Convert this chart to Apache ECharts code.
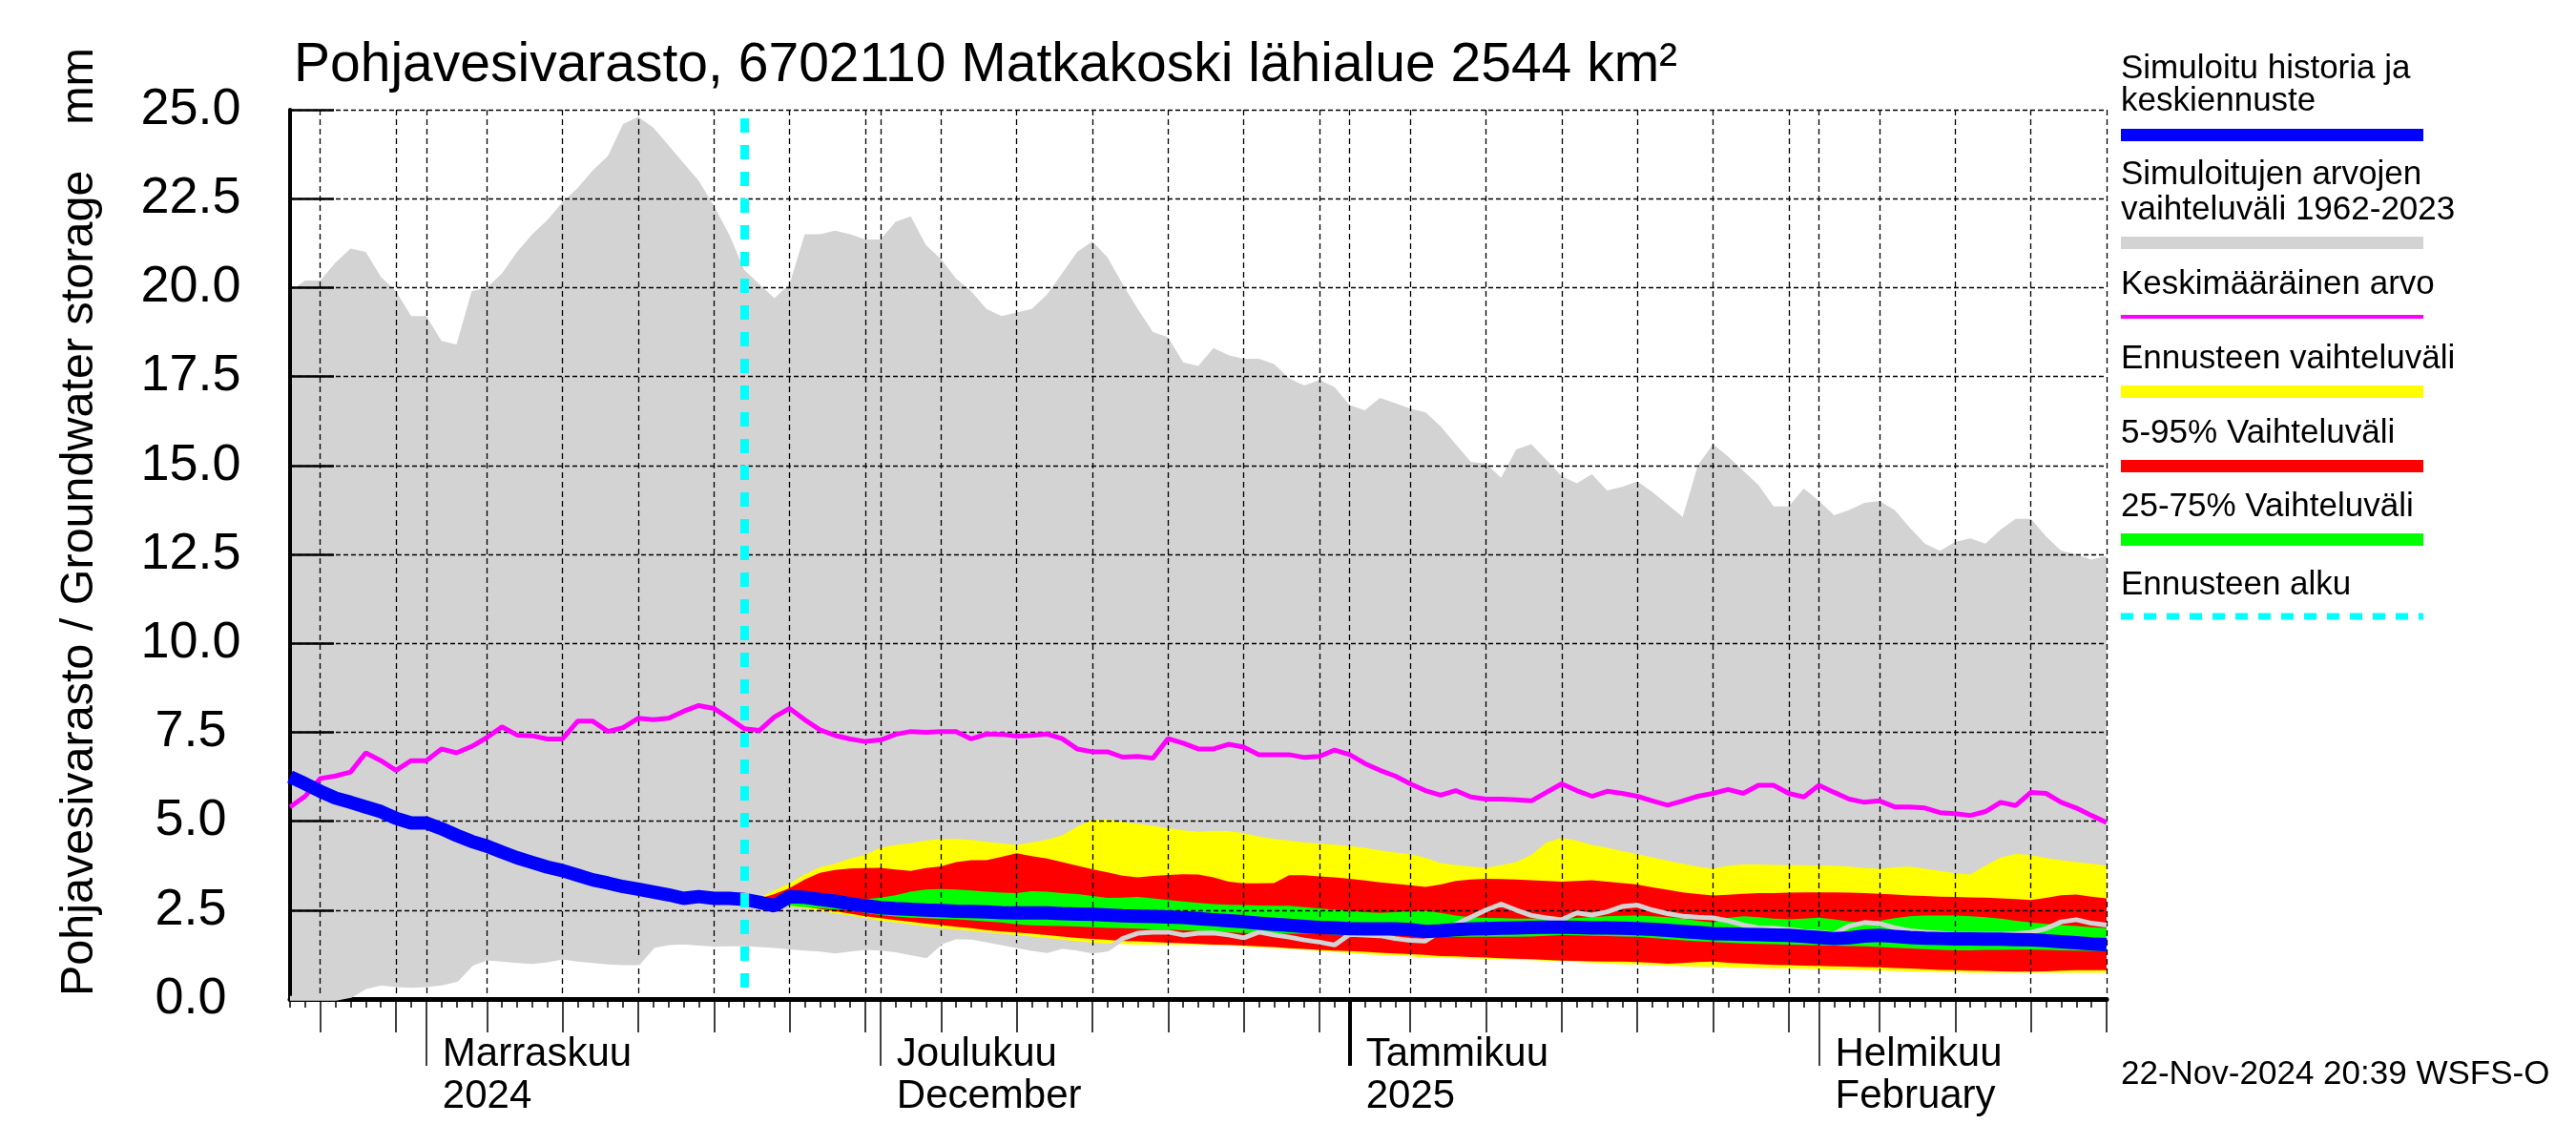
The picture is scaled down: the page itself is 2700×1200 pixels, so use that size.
<!DOCTYPE html>
<html><head><meta charset="utf-8">
<script src="https://cdn.jsdelivr.net/npm/echarts@6/dist/echarts.min.js"></script>
<style>html,body{margin:0;padding:0;background:#fff}#c{width:2700px;height:1200px}</style>
</head><body><div id="c"></div>
<script>
// ---------- data (day index 0 = 2024-10-23, daily values) ----------
const startDate = '2024-10-23';
const dayCount = 121;
const forecastStartDay = 30; // 2024-11-22
const gridDays = [2,7,9,13,18,23,28,33,38,39,43,48,53,58,63,68,70,74,79,84,89,94,99,101,105,110,115,120];
const monthDays = [9,39,70,101];
const monthLabels = ['Marraskuu\n2024','Joulukuu\nDecember','Tammikuu\n2025','Helmikuu\nFebruary'];
const yearDays = [70];

// simulated range 1962-2023 (max / min)
const simMax = [19.9,20.2,20.2,20.7,21.1,21.0,20.3,19.9,19.2,19.2,
18.5,18.4,19.9,20.0,20.4,21.0,21.5,21.9,22.4,22.8,
23.3,23.7,24.6,24.8,24.5,24.0,23.5,23.0,22.3,21.5,
20.5,20.1,19.7,20.1,21.5,21.5,21.6,21.5,21.35,21.35,
21.85,22.0,21.2,20.8,20.25,19.9,19.4,19.2,19.3,19.4,
19.8,20.4,21.0,21.3,20.85,20.1,19.4,18.75,18.6,17.9,
17.8,18.3,18.1,18.0,18.0,17.85,17.45,17.25,17.4,17.2,
16.7,16.55,16.9,16.75,16.6,16.5,16.1,15.6,15.1,15.05,
14.65,15.45,15.6,15.15,14.7,14.5,14.75,14.3,14.4,14.55,
14.25,13.9,13.55,15.0,15.6,15.25,14.85,14.45,13.85,13.85,
14.35,14.0,13.6,13.75,13.95,14.0,13.75,13.25,12.8,12.6,
12.85,12.95,12.8,13.2,13.5,13.5,13.0,12.6,12.5,12.35,12.45];
const simMin = [0.02,0.02,0.02,0.02,0.1,0.35,0.45,0.4,0.38,0.4,
0.45,0.55,1.0,1.15,1.12,1.08,1.05,1.1,1.18,1.12,
1.08,1.04,1.02,1.02,1.5,1.58,1.6,1.57,1.54,1.55,
1.55,1.53,1.5,1.46,1.43,1.4,1.35,1.4,1.45,1.43,
1.38,1.3,1.22,1.6,1.75,1.74,1.66,1.58,1.5,1.42,
1.36,1.48,1.43,1.35,1.4,1.7,1.85,1.88,1.88,1.8,
1.85,1.86,1.8,1.72,1.88,1.8,1.74,1.66,1.6,1.52,
1.82,1.8,1.78,1.7,1.65,1.63,1.9,2.1,2.3,2.5,
2.67,2.5,2.35,2.28,2.23,2.42,2.36,2.45,2.6,2.64,
2.5,2.4,2.33,2.3,2.28,2.2,2.08,2.0,1.99,1.95,
1.9,1.87,1.83,2.05,2.15,2.12,2.0,1.92,1.88,1.85,
1.82,1.82,1.82,1.82,1.84,1.87,1.98,2.17,2.23,2.13,2.08];
// mean value
const meanVal = [5.4,5.7,6.2,6.27,6.38,6.92,6.7,6.43,6.7,6.7,
7.03,6.92,7.1,7.35,7.65,7.42,7.4,7.31,7.31,7.81,
7.81,7.52,7.63,7.89,7.85,7.89,8.09,8.25,8.17,7.89,
7.6,7.55,7.93,8.17,7.85,7.57,7.41,7.31,7.24,7.28,
7.44,7.52,7.5,7.52,7.52,7.31,7.45,7.44,7.39,7.41,
7.45,7.32,7.03,6.95,6.95,6.8,6.82,6.77,7.32,7.19,
7.03,7.03,7.16,7.08,6.87,6.87,6.87,6.79,6.82,7.0,
6.87,6.62,6.43,6.27,6.05,5.86,5.73,5.86,5.68,5.62,
5.62,5.6,5.57,5.81,6.05,5.86,5.7,5.84,5.78,5.7,
5.57,5.45,5.57,5.7,5.78,5.89,5.78,6.01,6.01,5.78,
5.68,6.01,5.81,5.62,5.53,5.57,5.4,5.4,5.37,5.24,
5.21,5.16,5.27,5.53,5.44,5.81,5.78,5.53,5.37,5.16,4.96];
// simulated history + median forecast
const histMedian = [6.25,6.05,5.84,5.65,5.53,5.4,5.27,5.08,4.95,4.95,
4.79,4.6,4.43,4.3,4.13,3.97,3.84,3.71,3.61,3.48,
3.35,3.26,3.16,3.09,3.01,2.93,2.83,2.88,2.83,2.83,
2.8,2.72,2.62,2.88,2.86,2.8,2.75,2.68,2.62,2.57,
2.54,2.52,2.5,2.49,2.47,2.46,2.45,2.43,2.42,2.42,
2.42,2.4,2.39,2.38,2.36,2.34,2.33,2.32,2.31,2.29,
2.26,2.23,2.2,2.17,2.13,2.1,2.07,2.04,2.01,2.0,
1.98,1.97,1.97,1.97,1.95,1.9,1.92,1.95,1.97,1.98,
1.99,2.0,2.01,2.02,2.02,2.01,2.0,2.0,1.99,1.98,
1.96,1.93,1.9,1.87,1.84,1.83,1.82,1.81,1.8,1.79,
1.76,1.73,1.7,1.72,1.77,1.79,1.76,1.73,1.71,1.7,
1.69,1.69,1.68,1.68,1.67,1.66,1.64,1.61,1.58,1.55,1.53];
// forecast ranges, days 30..120
const fcMax = [2.8,2.85,3.05,3.25,3.5,3.7,3.8,3.95,4.05,4.25,
4.33,4.38,4.45,4.5,4.5,4.47,4.42,4.37,4.33,4.4,
4.48,4.6,4.85,5.03,5.05,4.98,4.92,4.87,4.8,4.74,
4.7,4.73,4.72,4.66,4.57,4.5,4.45,4.4,4.37,4.34,
4.3,4.25,4.18,4.12,4.08,3.97,3.82,3.77,3.72,3.69,
3.76,3.85,4.05,4.4,4.53,4.45,4.33,4.25,4.16,4.08,
3.98,3.89,3.8,3.72,3.67,3.75,3.78,3.78,3.77,3.76,
3.76,3.75,3.75,3.72,3.68,3.66,3.7,3.72,3.66,3.6,
3.54,3.5,3.75,3.98,4.08,4.05,3.96,3.9,3.85,3.8,3.75];
const fcP95 = [2.8,2.82,2.95,3.12,3.36,3.55,3.63,3.67,3.68,3.69,
3.64,3.6,3.68,3.73,3.85,3.9,3.9,4.0,4.1,4.02,
3.95,3.85,3.75,3.65,3.56,3.47,3.42,3.46,3.49,3.51,
3.5,3.42,3.3,3.25,3.25,3.26,3.48,3.48,3.45,3.42,
3.38,3.33,3.28,3.24,3.2,3.15,3.22,3.32,3.36,3.38,
3.37,3.36,3.34,3.32,3.3,3.32,3.34,3.3,3.26,3.22,
3.14,3.07,3.0,2.95,2.91,2.93,2.96,2.98,2.98,2.99,
3.0,3.0,3.0,2.99,2.98,2.96,2.94,2.91,2.9,2.88,
2.87,2.86,2.85,2.83,2.81,2.78,2.84,2.92,2.94,2.88,2.83];
const fcP75 = [2.8,2.75,2.7,2.72,2.75,2.77,2.78,2.78,2.8,2.85,
2.92,3.02,3.08,3.09,3.08,3.05,3.02,2.99,2.98,3.03,
3.02,2.98,2.95,2.9,2.84,2.85,2.87,2.83,2.78,2.74,
2.7,2.67,2.65,2.64,2.63,2.62,2.62,2.58,2.55,2.51,
2.48,2.44,2.42,2.44,2.47,2.48,2.42,2.35,2.3,2.28,
2.27,2.26,2.26,2.26,2.26,2.28,2.3,2.33,2.34,2.35,
2.33,2.3,2.26,2.2,2.15,2.28,2.33,2.3,2.26,2.24,
2.26,2.29,2.24,2.18,2.15,2.2,2.27,2.33,2.35,2.35,
2.35,2.33,2.3,2.26,2.2,2.15,2.11,2.08,2.05,2.02,1.99];
const fcP25 = [2.8,2.72,2.65,2.62,2.58,2.55,2.52,2.5,2.42,2.36,
2.32,2.29,2.27,2.25,2.24,2.21,2.18,2.15,2.1,2.07,
2.06,2.05,2.04,2.02,2.0,1.99,1.98,1.96,1.95,1.93,
1.92,1.9,1.88,1.86,1.85,1.84,1.84,1.84,1.83,1.81,
1.8,1.8,1.8,1.8,1.79,1.76,1.75,1.75,1.75,1.75,
1.75,1.75,1.76,1.78,1.8,1.79,1.78,1.77,1.76,1.75,
1.72,1.68,1.65,1.62,1.6,1.58,1.56,1.55,1.54,1.53,
1.52,1.51,1.5,1.49,1.48,1.46,1.44,1.42,1.4,1.38,
1.37,1.37,1.38,1.38,1.39,1.39,1.38,1.37,1.36,1.35,1.35];
const fcP05 = [2.8,2.72,2.68,2.65,2.6,2.53,2.47,2.4,2.33,2.27,
2.22,2.17,2.12,2.08,2.03,1.99,1.94,1.9,1.87,1.84,
1.8,1.76,1.72,1.69,1.66,1.63,1.62,1.6,1.58,1.57,
1.55,1.53,1.52,1.5,1.48,1.46,1.43,1.41,1.38,1.36,
1.35,1.33,1.3,1.28,1.26,1.24,1.21,1.2,1.18,1.17,
1.15,1.13,1.12,1.1,1.08,1.07,1.06,1.05,1.05,1.04,
1.02,0.99,1.01,1.04,1.05,1.02,1.0,0.98,0.96,0.95,
0.94,0.93,0.92,0.91,0.9,0.89,0.87,0.86,0.84,0.82,
0.81,0.8,0.79,0.78,0.77,0.77,0.78,0.8,0.81,0.81,0.81];
const fcMin = [2.8,2.72,2.66,2.61,2.55,2.48,2.41,2.35,2.28,2.2,
2.15,2.1,2.04,1.99,1.95,1.92,1.88,1.84,1.8,1.76,
1.72,1.67,1.62,1.58,1.56,1.54,1.53,1.53,1.53,1.53,
1.52,1.51,1.5,1.48,1.45,1.43,1.41,1.38,1.35,1.32,
1.29,1.26,1.24,1.22,1.2,1.17,1.16,1.15,1.14,1.13,
1.12,1.1,1.09,1.07,1.06,1.04,1.02,1.0,0.98,0.97,
0.95,0.93,0.92,0.91,0.9,0.89,0.88,0.87,0.86,0.86,
0.85,0.84,0.83,0.82,0.81,0.8,0.79,0.78,0.77,0.76,
0.75,0.74,0.74,0.74,0.74,0.74,0.74,0.74,0.74,0.74,0.74];

// ---------- build ----------
const FONT = '"Liberation Sans", Arial, Helvetica, sans-serif';
const dates = [];
{
  const t0 = Date.UTC(2024, 9, 23);
  for (let i = 0; i < dayCount; i++) dates.push(new Date(t0 + i * 86400000).toISOString().slice(0, 10));
}
const histDates = dates.slice(0, simMax.length);
const fcDates = dates.slice(forecastStartDay, forecastStartDay + fcMax.length);
const pairs = (xs, ys) => xs.map((x, i) => [x, ys[i]]);
const diffs = (xs, hi, lo) => xs.map((x, i) => [x, +(hi[i] - lo[i]).toFixed(3)]);

function bandSeries(name, xs, lo, hi, color, z) {
  return [
    { name: name + '_base', type: 'line', stack: name, data: pairs(xs, lo), symbol: 'none',
      lineStyle: { opacity: 0 }, silent: true, z: z },
    { name: name, type: 'line', stack: name, data: diffs(xs, hi, lo), symbol: 'none',
      lineStyle: { opacity: 0 }, areaStyle: { color: color, opacity: 1 }, silent: true, z: z }
  ];
}

const gridSet = new Set(gridDays), monthSet = new Set(monthDays), yearSet = new Set(yearDays);
const chart = echarts.init(document.getElementById('c'), null, { renderer: 'canvas' });

const baseX = { type: 'category', data: dates, boundaryGap: false, gridIndex: 0, position: 'bottom', z: 3,
  axisLabel: { show: false }, splitLine: { show: false }, axisLine: { show: false } };

const option = {
  animation: false,
  backgroundColor: '#ffffff',
  grid: { left: 304, right: 492, top: 115, bottom: 153, containLabel: false },
  xAxis: [
    Object.assign({}, baseX, {
      axisLine: { show: true, onZero: false, lineStyle: { color: '#000', width: 5 } },
      axisTick: { show: true, interval: 0, length: 9, lineStyle: { color: '#000', width: 1.5 } } }),
    Object.assign({}, baseX, {
      axisTick: { show: true, length: 35, interval: i => gridSet.has(i), lineStyle: { color: '#000', width: 1.5 } },
      splitLine: { show: true, interval: i => gridSet.has(i), lineStyle: { color: '#000', width: 1.3, type: [6, 4] } } }),
    Object.assign({}, baseX, {
      axisTick: { show: true, length: 70, interval: i => monthSet.has(i), lineStyle: { color: '#000', width: 1.5 } },
      axisLabel: { show: true, interval: i => monthSet.has(i),
        formatter: (v, i) => monthLabels[monthDays.indexOf(i)] || '', margin: 36,
        align: 'left', verticalAlign: 'top', padding: [0, 0, 0, 17], lineHeight: 44,
        fontSize: 42, fontFamily: FONT, color: '#000' } }),
    Object.assign({}, baseX, {
      axisTick: { show: true, length: 70, interval: i => yearSet.has(i), lineStyle: { color: '#000', width: 4 } } })
  ],
  yAxis: {
    type: 'value', min: 0, max: 25, interval: 2.5, z: 3,
    axisLine: { show: true, lineStyle: { color: '#000', width: 4 } },
    axisTick: { show: true, inside: true, length: 46, lineStyle: { color: '#000', width: 2.5 } },
    axisLabel: { formatter: v => v.toFixed(1), fontSize: 54, fontFamily: FONT, color: '#000',
      align: 'center', margin: 104, padding: [0, 0, 17, 0] },
    splitLine: { show: true, lineStyle: { color: '#000', width: 1.3, type: [5, 3] } }
  },
  series: [
    ...bandSeries('sim', histDates, simMin, simMax, '#d3d3d3', 1),
    ...bandSeries('fcAll', fcDates, fcMin, fcMax, '#ffff00', 2),
    ...bandSeries('fc90', fcDates, fcP05, fcP95, '#ff0000', 2),
    ...bandSeries('fc50', fcDates, fcP25, fcP75, '#00ff00', 2),
    { name: 'simMinLine', type: 'line', data: pairs(histDates, simMin), symbol: 'none', silent: true,
      lineStyle: { color: '#d3d3d3', width: 5 }, z: 4 },
    { name: 'mean', type: 'line', data: pairs(histDates, meanVal), symbol: 'none', silent: true,
      lineStyle: { color: '#ff00ff', width: 5 }, z: 4 },
    { name: 'median', type: 'line', data: pairs(histDates, histMedian), symbol: 'none', silent: true,
      lineStyle: { color: '#0000ff', width: 14 }, z: 5,
      markLine: { silent: true, symbol: ['none', 'none'], label: { show: false }, z: 10,
        lineStyle: { color: '#00ffff', width: 9, type: [15, 13], dashOffset: -12 },
        data: [{ xAxis: dates[forecastStartDay] }] } }
  ],
  graphic: [
    { type: 'text', x: 308, y: 69, silent: true,
      style: { text: 'Pohjavesivarasto, 6702110 Matkakoski lähialue 2544 km²', font: '57px ' + FONT,
        fill: '#000', align: 'left', verticalAlign: 'middle' } },
    { type: 'text', x: 84, y: 1044, rotation: Math.PI / 2, silent: true,
      style: { text: 'Pohjavesivarasto / Groundwater storage', font: '48.5px ' + FONT,
        fill: '#000', align: 'left', verticalAlign: 'middle' } },
    { type: 'text', x: 84, y: 50, rotation: Math.PI / 2, silent: true,
      style: { text: 'mm', font: '48.5px ' + FONT, fill: '#000', align: 'right', verticalAlign: 'middle' } },
    { type: 'text', x: 2223, y: 1126, silent: true,
      style: { text: '22-Nov-2024 20:39 WSFS-O', font: '35px ' + FONT, fill: '#000', align: 'left', verticalAlign: 'middle' } },
    // legend
    { type: 'text', x: 2223, y: 72, silent: true, style: { text: 'Simuloitu historia ja', font: '35px ' + FONT, fill: '#000', verticalAlign: 'middle' } },
    { type: 'text', x: 2223, y: 106, silent: true, style: { text: 'keskiennuste', font: '35px ' + FONT, fill: '#000', verticalAlign: 'middle' } },
    { type: 'rect', silent: true, shape: { x: 2223, y: 135, width: 317, height: 13 }, style: { fill: '#0000ff' } },
    { type: 'text', x: 2223, y: 183, silent: true, style: { text: 'Simuloitujen arvojen', font: '35px ' + FONT, fill: '#000', verticalAlign: 'middle' } },
    { type: 'text', x: 2223, y: 220, silent: true, style: { text: 'vaihteluväli 1962-2023', font: '35px ' + FONT, fill: '#000', verticalAlign: 'middle' } },
    { type: 'rect', silent: true, shape: { x: 2223, y: 248, width: 317, height: 13 }, style: { fill: '#d3d3d3' } },
    { type: 'text', x: 2223, y: 298, silent: true, style: { text: 'Keskimääräinen arvo', font: '35px ' + FONT, fill: '#000', verticalAlign: 'middle' } },
    { type: 'rect', silent: true, shape: { x: 2223, y: 330, width: 317, height: 4 }, style: { fill: '#ff00ff' } },
    { type: 'text', x: 2223, y: 376, silent: true, style: { text: 'Ennusteen vaihteluväli', font: '35px ' + FONT, fill: '#000', verticalAlign: 'middle' } },
    { type: 'rect', silent: true, shape: { x: 2223, y: 404, width: 317, height: 13 }, style: { fill: '#ffff00' } },
    { type: 'text', x: 2223, y: 454, silent: true, style: { text: '5-95% Vaihteluväli', font: '35px ' + FONT, fill: '#000', verticalAlign: 'middle' } },
    { type: 'rect', silent: true, shape: { x: 2223, y: 482, width: 317, height: 13 }, style: { fill: '#ff0000' } },
    { type: 'text', x: 2223, y: 531, silent: true, style: { text: '25-75% Vaihteluväli', font: '35px ' + FONT, fill: '#000', verticalAlign: 'middle' } },
    { type: 'rect', silent: true, shape: { x: 2223, y: 559, width: 317, height: 13 }, style: { fill: '#00ff00' } },
    { type: 'text', x: 2223, y: 613, silent: true, style: { text: 'Ennusteen alku', font: '35px ' + FONT, fill: '#000', verticalAlign: 'middle' } },
    { type: 'line', silent: true, shape: { x1: 2223, y1: 646, x2: 2540, y2: 646 },
      style: { stroke: '#00ffff', lineWidth: 7, lineDash: [13, 11] } }
  ]
};
chart.setOption(option);
</script></body></html>
